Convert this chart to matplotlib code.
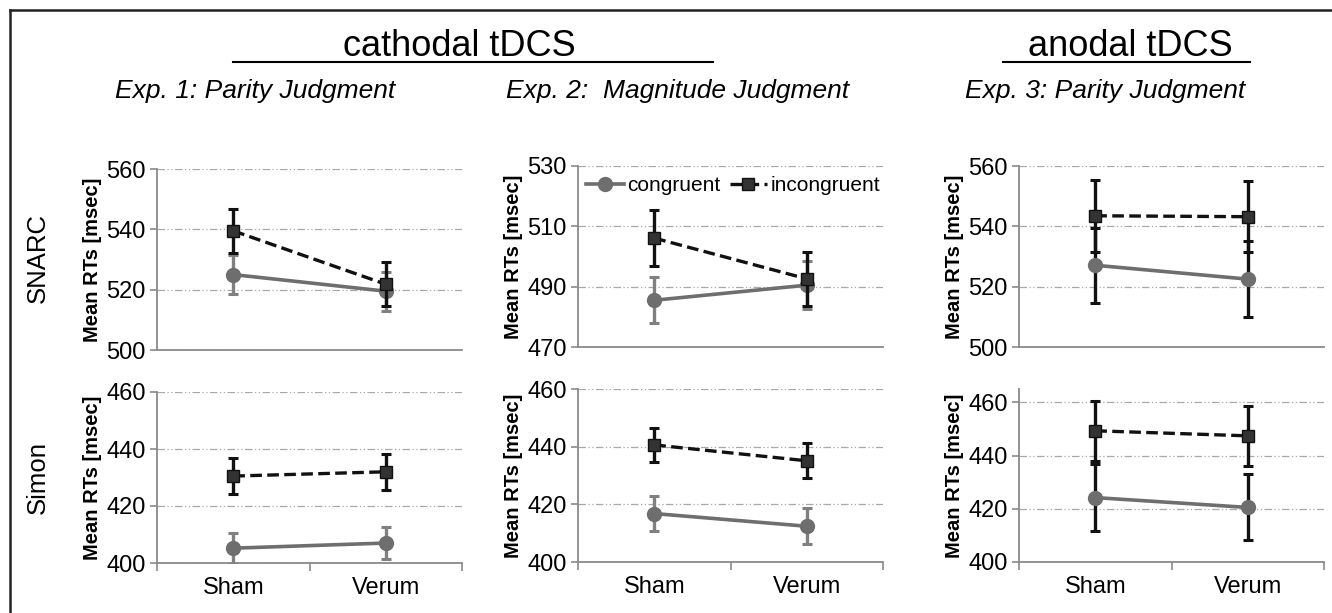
import matplotlib.pyplot as plt
from matplotlib.lines import Line2D

plt.rcParams['font.family'] = ['Liberation Sans', 'DejaVu Sans']

W, H = 1332, 613

conditions = ['Sham', 'Verum']
groups = ['congruent', 'incongruent']
experiments = ['Exp. 1: Parity Judgment', 'Exp. 2:  Magnitude Judgment', 'Exp. 3: Parity Judgment']
tasks = ['SNARC', 'Simon']

# SNARC rows (top), per experiment: [Sham, Verum]
snarc_cong = [[525.0, 519.5], [485.5, 490.5], [527.1, 522.5]]
snarc_cong_err = [[6.4, 6.5], [7.6, 8.0], [12.4, 12.5]]
snarc_incong = [[539.5, 521.8], [506.1, 492.6], [543.5, 543.2]]
snarc_incong_err = [[7.4, 7.3], [9.2, 9.0], [12.0, 11.8]]

# Simon rows (bottom)
simon_cong = [[405.2, 407.0], [416.8, 412.4], [424.2, 420.5]]
simon_cong_err = [[5.5, 5.7], [6.1, 6.2], [12.5, 12.4]]
simon_incong = [[430.5, 432.0], [440.6, 435.1], [449.3, 447.4]]
simon_incong_err = [[6.3, 6.3], [5.9, 6.0], [11.3, 11.4]]

snarc_ylims = [(500, 560), (470, 530), (500, 560)]
simon_ylims = [(400, 460), (400, 460), (400, 465)]
snarc_ticks = [[500, 520, 540, 560], [470, 490, 510, 530], [500, 520, 540, 560]]
simon_ticks = [[400, 420, 440, 460]] * 3


def px(x0, y0, x1, y1):
    return [x0 / W, 1 - y1 / H, (x1 - x0) / W, (y1 - y0) / H]


fig = plt.figure(figsize=(W / 100, H / 100), dpi=100)

top_boxes = [px(157, 169, 462, 350), px(578, 166, 883, 347), px(1019, 166, 1324, 347)]
bot_boxes = [px(157, 392, 462, 563), px(578, 389, 883, 562), px(1019, 389, 1324, 562)]

spine_c = '#8a8a8a'
cong_c = '#6e6e6e'
inc_line = '#111111'
inc_face = '#333333'
err_cong_c = ['#808080', '#808080', '#111111']
dash = (0, (3.5, 1.6))


def draw(ax, cong, cerr, inc, ierr, ylim, ticks, ecol, xlabels):
    x = [0.5, 1.5]
    ax.errorbar(x, cong, yerr=cerr, color=cong_c, ecolor=ecol, lw=2.6,
                elinewidth=2.4, capsize=3.5, capthick=2.2, marker='o', ms=10,
                mfc=cong_c, mec=cong_c, zorder=3)
    ax.errorbar(x, inc, yerr=ierr, color=inc_line, ecolor=inc_line, lw=2.4,
                ls=dash, elinewidth=2.4, capsize=3.5, capthick=2.2,
                marker='s', ms=8.5, mfc=inc_face, mec=inc_line, zorder=4)
    ax.set_xlim(0, 2)
    ax.set_ylim(*ylim)
    ax.set_yticks(ticks)
    ax.set_xticks([0, 1, 2])
    ax.set_xticklabels([])
    ax.set_xticks(x, minor=True)
    if xlabels:
        ax.set_xticklabels(conditions, minor=True, fontsize=17)
    ax.tick_params(axis='x', which='minor', length=0, pad=10)
    ax.tick_params(axis='x', which='major', length=6, color=spine_c, width=1.2)
    ax.tick_params(axis='y', length=5, color=spine_c, width=1.2, labelsize=17, pad=3)
    ax.yaxis.grid(True, ls=(0, (6, 2, 1, 2, 1, 2)), color='#a8a8a8', lw=0.9)
    ax.set_axisbelow(True)
    for s in ['top', 'right']:
        ax.spines[s].set_visible(False)
    for s in ['left', 'bottom']:
        ax.spines[s].set_color(spine_c)
        ax.spines[s].set_linewidth(1.3)
    ax.set_ylabel('Mean RTs [msec]', fontsize=14.5, fontweight='bold', labelpad=3)


for i in range(3):
    ax = fig.add_axes(top_boxes[i])
    draw(ax, snarc_cong[i], snarc_cong_err[i], snarc_incong[i], snarc_incong_err[i],
         snarc_ylims[i], snarc_ticks[i], err_cong_c[i], False)
    ax.tick_params(axis='x', which='major', length=0)
    if i == 1:
        handles = [
            Line2D([], [], color=cong_c, lw=2.6, marker='o', ms=10, mfc=cong_c, mec=cong_c),
            Line2D([], [], color=inc_line, lw=2.4, ls=dash, marker='s', ms=8.5,
                   mfc=inc_face, mec=inc_line),
        ]
        ax.legend(handles, groups, loc='upper left', frameon=False, ncol=2, fontsize=15,
                  handlelength=1.8, columnspacing=0.45, handletextpad=0.15,
                  borderaxespad=0.0, bbox_to_anchor=(0.0, 0.99))
    ax = fig.add_axes(bot_boxes[i])
    draw(ax, simon_cong[i], simon_cong_err[i], simon_incong[i], simon_incong_err[i],
         simon_ylims[i], simon_ticks[i], err_cong_c[i], True)

# headings
fig.text(459 / W, 1 - 46 / H, 'cathodal tDCS', fontsize=26, ha='center', va='center')
fig.text(1130 / W, 1 - 46 / H, 'anodal tDCS', fontsize=26, ha='center', va='center')
fig.add_artist(Line2D([233 / W, 713 / W], [1 - 62 / H] * 2, color='black', lw=1.5))
fig.add_artist(Line2D([1003 / W, 1250 / W], [1 - 62 / H] * 2, color='black', lw=1.5))

for xc, t in zip([255, 678, 1105], experiments):
    fig.text(xc / W, 1 - 91 / H, t, fontsize=19, style='italic', ha='center', va='center')

for yc, t in zip([258, 478], tasks):
    fig.text(38 / W, 1 - yc / H, t, fontsize=18.5, rotation=90, ha='center', va='center')

# frame
fig.add_artist(Line2D([10 / W, 1], [1 - 10 / H] * 2, color='#222222', lw=1.8))
fig.add_artist(Line2D([10 / W] * 2, [0, 1 - 10 / H], color='#222222', lw=1.8))

fig.savefig('out.png', dpi=100)
